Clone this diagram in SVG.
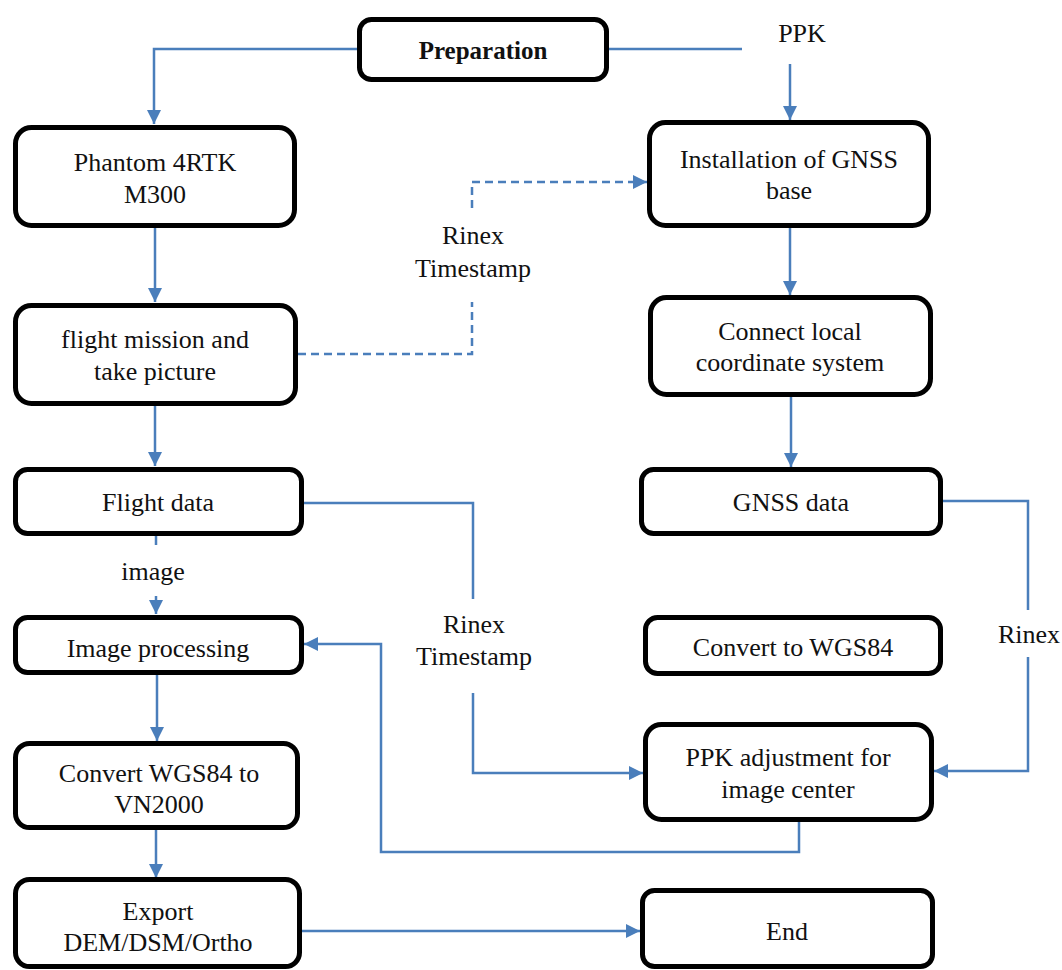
<svg xmlns="http://www.w3.org/2000/svg" width="1062" height="970" viewBox="0 0 1062 970">
<style>
.box{fill:#fff;stroke:#000;stroke-width:5}
.t{font-family:"Liberation Serif","Times New Roman",serif;font-size:26px;fill:#111;text-anchor:middle}
.b{font-weight:bold;font-size:25px}
.c{fill:none;stroke:#4a7ebb;stroke-width:2.5}
.d{stroke-dasharray:8 5}
</style>
<defs>
<marker id="ah" viewBox="0 0 14 14" refX="14" refY="7" markerWidth="14" markerHeight="14" markerUnits="userSpaceOnUse" orient="auto">
<path d="M0,0 L14,7 L0,14 Z" fill="#4a7ebb"/>
</marker>
</defs>
<rect width="1062" height="970" fill="#fff"/>
<g id="connectors">
<path class="c" d="M357,49 H154 V124" marker-end="url(#ah)"/>
<path class="c" d="M609,49 H742"/>
<path class="c" d="M790,64 V120" marker-end="url(#ah)"/>
<path class="c" d="M155,228 V302" marker-end="url(#ah)"/>
<path class="c" d="M155,406 V466" marker-end="url(#ah)"/>
<path class="c" d="M790,228 V295" marker-end="url(#ah)"/>
<path class="c" d="M791,397 V467" marker-end="url(#ah)"/>
<path class="c" d="M156,536 V545"/>
<path class="c" d="M156,596 V614" marker-end="url(#ah)"/>
<path class="c" d="M157,675 V741" marker-end="url(#ah)"/>
<path class="c" d="M156,830 V878" marker-end="url(#ah)"/>
<path class="c" d="M302,931 H640" marker-end="url(#ah)"/>
<path class="c d" d="M298,354 H472 V302"/>
<path class="c d" d="M472,208 V182 H647" marker-end="url(#ah)"/>
<path class="c" d="M304,503 H473 V599"/>
<path class="c" d="M473,693 V773 H643" marker-end="url(#ah)"/>
<path class="c" d="M943,501 H1028 V610"/>
<path class="c" d="M1028,657 V771 H934" marker-end="url(#ah)"/>
<path class="c" d="M799,822 V852 H381 V644 H304" marker-end="url(#ah)"/>
</g>
<g id="labels">
<text class="t" x="802" y="42">PPK</text>
<text class="t" x="473" y="244">Rinex</text>
<text class="t" x="473" y="277">Timestamp</text>
<text class="t" x="153" y="580">image</text>
<text class="t" x="474" y="633">Rinex</text>
<text class="t" x="474" y="665">Timestamp</text>
<text class="t" x="1029" y="643">Rinex</text>
</g>
<g id="preparation"><rect class="box" x="359.5" y="19.5" width="247" height="60" rx="12"/><text class="t b" x="483" y="59">Preparation</text></g>
<g id="phantom"><rect class="box" x="15.5" y="127.5" width="279" height="98" rx="16"/><text class="t" x="155" y="171">Phantom 4RTK</text><text class="t" x="155" y="203">M300</text></g>
<g id="installation"><rect class="box" x="649.5" y="122.5" width="279" height="103" rx="16"/><text class="t" x="789" y="168">Installation of GNSS</text><text class="t" x="789" y="199">base</text></g>
<g id="flight-mission"><rect class="box" x="15.5" y="305.5" width="280" height="98" rx="16"/><text class="t" x="155" y="348">flight mission and</text><text class="t" x="155" y="380">take picture</text></g>
<g id="connect-local"><rect class="box" x="650.5" y="297.5" width="280" height="97" rx="16"/><text class="t" x="790" y="340">Connect local</text><text class="t" x="790" y="371">coordinate system</text></g>
<g id="flight-data"><rect class="box" x="15.5" y="469.5" width="286" height="64" rx="12"/><text class="t" x="158" y="511">Flight data</text></g>
<g id="gnss-data"><rect class="box" x="641.5" y="469.5" width="299" height="64" rx="12"/><text class="t" x="791" y="511">GNSS data</text></g>
<g id="image-processing"><rect class="box" x="15.5" y="617.5" width="286" height="55" rx="12"/><text class="t" x="158" y="657">Image processing</text></g>
<g id="convert-wgs84"><rect class="box" x="645.5" y="617.5" width="295" height="56" rx="12"/><text class="t" x="793" y="656">Convert to WGS84</text></g>
<g id="ppk-adjustment"><rect class="box" x="645.5" y="724.5" width="286" height="95" rx="16"/><text class="t" x="788" y="766">PPK adjustment for</text><text class="t" x="788" y="798">image center</text></g>
<g id="convert-vn2000"><rect class="box" x="15.5" y="743.5" width="282" height="84" rx="14"/><text class="t" x="159" y="782">Convert WGS84 to</text><text class="t" x="159" y="813">VN2000</text></g>
<g id="export"><rect class="box" x="15.5" y="879.5" width="284" height="87" rx="14"/><text class="t" x="158" y="920">Export</text><text class="t" x="158" y="951">DEM/DSM/Ortho</text></g>
<g id="end"><rect class="box" x="642.5" y="890.5" width="290" height="76" rx="12"/><text class="t" x="787" y="940">End</text></g>
</svg>
